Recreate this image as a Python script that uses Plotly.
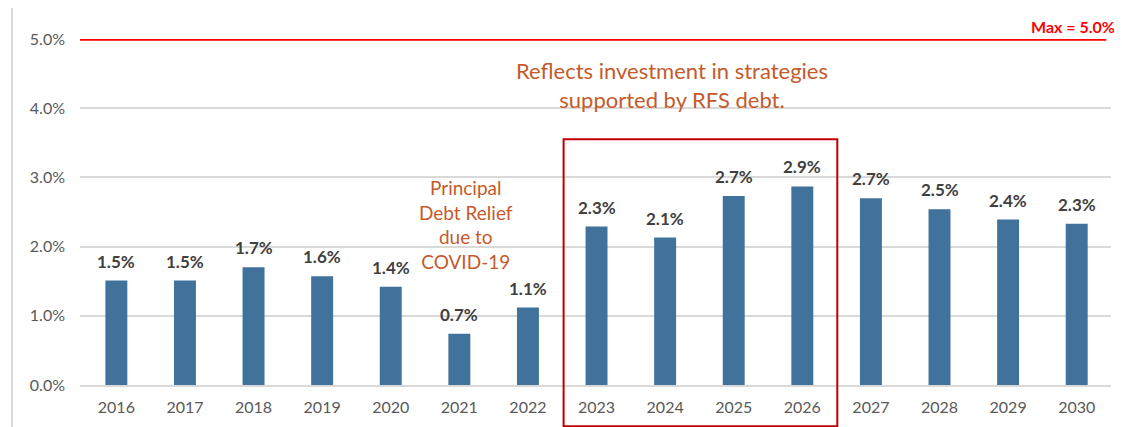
import plotly.graph_objects as go

years = list(range(2016, 2031))
ratio = [1.51, 1.51, 1.70, 1.57, 1.42, 0.74, 1.12, 2.29, 2.13, 2.73, 2.87, 2.70, 2.54, 2.39, 2.33]
max_ratio = 5.0

FONT = "Lato"
BAR = "#41729B"
NOTE = "#C55A2B"

fig = go.Figure()

fig.add_trace(go.Bar(
    x=years, y=ratio, width=0.32,
    marker=dict(color=BAR, line=dict(width=0)),
    showlegend=False,
))

# value labels, a bit above each bar
for yr, v in zip(years, ratio):
    fig.add_annotation(
        x=yr, y=v, text="<b>%.1f%%</b>" % v, showarrow=False,
        yanchor="bottom", yshift=7,
        font=dict(family=FONT, size=17, color="#404040"),
    )

# max line
fig.add_trace(go.Scatter(
    x=[years[0] - 0.53, years[-1] + 0.43], y=[max_ratio, max_ratio],
    mode="lines", line=dict(color="#FF0000", width=3.5),
    showlegend=False, hoverinfo="skip", cliponaxis=False,
))

fig.add_annotation(
    x=1.006, y=1.035, xref="paper", yref="paper", xanchor="right", yanchor="middle",
    text="<b>Max = %.1f%%</b>" % max_ratio, showarrow=False,
    font=dict(family=FONT, size=16, color="#FF0000"),
)
fig.add_annotation(
    x=2024.1, y=4.33, text="Reflects investment in strategies<br>supported by RFS debt.",
    showarrow=False, font=dict(family=FONT, size=22, color=NOTE),
)
fig.add_annotation(
    x=2021.1, y=2.32, text="Principal<br>Debt Relief<br>due to<br>COVID-19",
    showarrow=False, font=dict(family=FONT, size=19, color=NOTE),
)

# highlight box around 2023-2026
fig.add_shape(type="rect", xref="x", yref="paper",
              x0=2022.52, x1=2026.51, y0=-0.119, y1=0.71,
              line=dict(color="#C00000", width=2), layer="above")

# outer frame (top and left edges)
fig.add_shape(type="line", xref="paper", yref="paper",
              x0=-0.066, x1=1.0, y0=1.093, y1=1.093,
              line=dict(color="#D9D9D9", width=2))
fig.add_shape(type="line", xref="paper", yref="paper",
              x0=-0.066, x1=-0.066, y0=1.093, y1=-0.2,
              line=dict(color="#D9D9D9", width=2))

fig.update_xaxes(
    range=[years[0] - 0.53, years[-1] + 0.5], tickvals=years,
    showgrid=False, showline=True, linecolor="#D9D9D9", linewidth=1.5,
    ticks="", tickfont=dict(family=FONT, size=16, color="#595959"),
    ticklabelstandoff=7,
)
fig.update_yaxes(
    range=[0, 5.0], dtick=1.0, tickformat=".1f", ticksuffix="%",
    showgrid=True, gridcolor="#D9D9D9", gridwidth=1.5,
    zeroline=False, ticks="", ticklabelstandoff=14,
    tickfont=dict(family=FONT, size=16, color="#595959"),
)

fig.update_layout(
    width=1114, height=419,
    margin=dict(l=72, r=11, t=31, b=35),
    plot_bgcolor="white", paper_bgcolor="white",
    bargap=0.68,
)

fig.write_html("out.html")
